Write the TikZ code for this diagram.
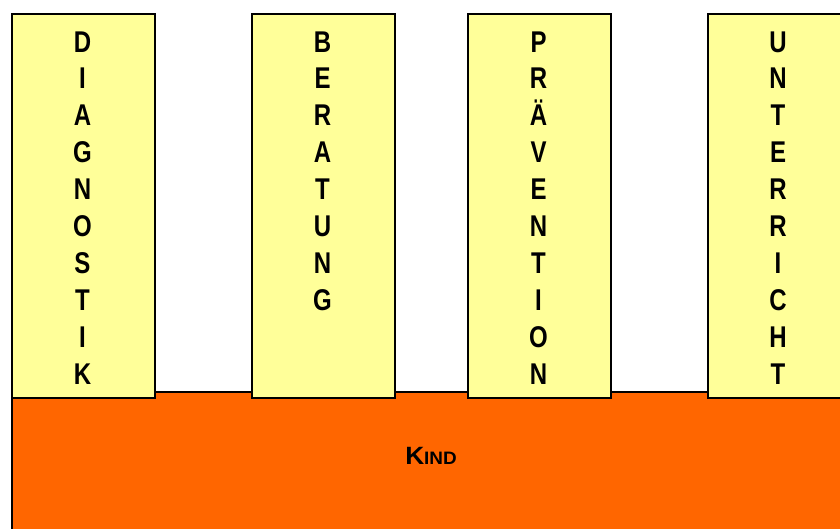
\documentclass[tikz,border=0pt]{standalone}
\usepackage{fontspec}
\newfontfamily\narrowsans[FakeStretch=0.8]{Liberation Sans}
\newfontfamily\widesans[FakeStretch=1.05]{Liberation Sans}
\definecolor{pillarfill}{HTML}{FFFF99}
\definecolor{basefill}{HTML}{FF6600}
\tikzset{
  pillar/.style={draw=black, line width=1.5pt, fill=pillarfill, rectangle,
    anchor=north west, minimum width=143pt, minimum height=384pt, inner sep=0pt},
  basebox/.style={draw=black, line width=1.5pt, fill=basefill, rectangle,
    anchor=north west, minimum width=840pt, minimum height=160pt, inner sep=0pt},
  letter/.style={anchor=base, inner sep=0pt,
    font=\narrowsans\bfseries\fontsize{30}{30}\selectfont}
}
\begin{document}
\begin{tikzpicture}[x=1pt, y=-1pt]
  \useasboundingbox (0,0) rectangle (840,528);
  \clip (0,0) rectangle (840,528);
  \fill[white] (0,0) rectangle (840,528);
  % base block
  \node[basebox] (kind) at (11,391) {};
  \node[anchor=base, inner sep=0pt, font=\widesans\bfseries] (kindlabel) at (431,464)
    {{\fontsize{25}{25}\selectfont K}{\fontsize{18}{18}\selectfont IND}};
  % four pillars standing on the base
  \node[pillar] (p1) at (11,13) {};
  \node[pillar] (p2) at (251,13) {};
  \node[pillar] (p3) at (467,13) {};
  \node[pillar] (p4) at (707,13) {};
  \foreach \l [count=\i from 0] in {D,I,A,G,N,O,S,T,I,K}
    \node[letter] (a\i) at (82.5,52+36.9*\i) {\l};
  \foreach \l [count=\i from 0] in {B,E,R,A,T,U,N,G}
    \node[letter] (b\i) at (322.5,52+36.9*\i) {\l};
  \foreach \l [count=\i from 0] in {P,R,Ä,V,E,N,T,I,O,N}
    \node[letter] (c\i) at (538.5,52+36.9*\i) {\l};
  \foreach \l [count=\i from 0] in {U,N,T,E,R,R,I,C,H,T}
    \node[letter] (d\i) at (778,52+36.9*\i) {\l};
\end{tikzpicture}
\end{document}
